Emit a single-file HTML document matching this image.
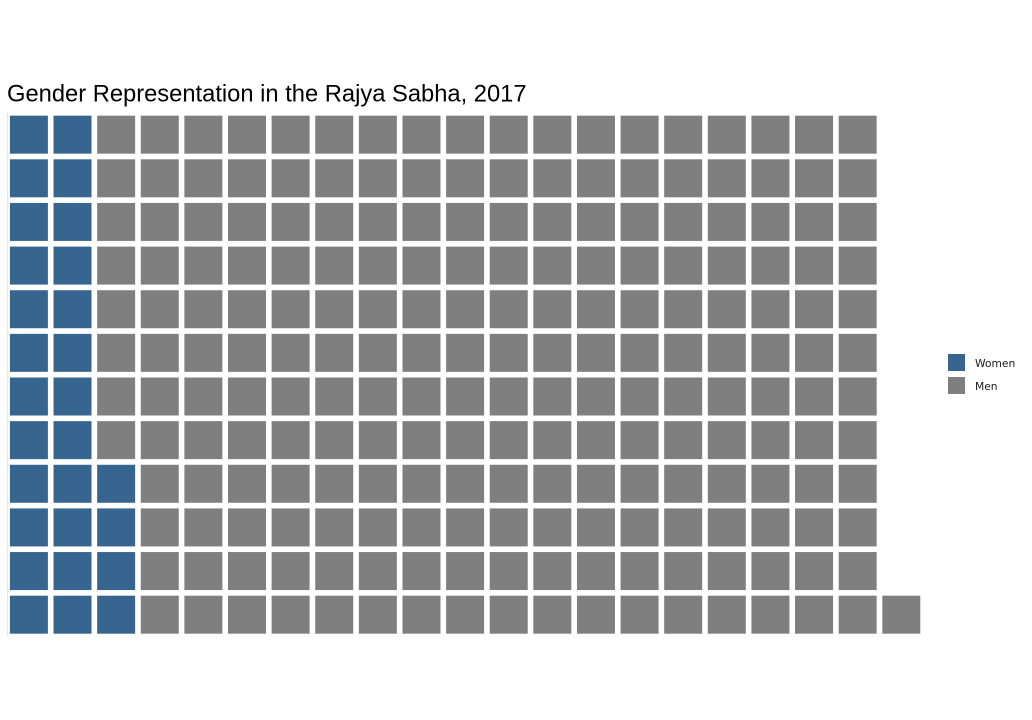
<!DOCTYPE html>
<html>
<head>
<meta charset="utf-8">
<title>Gender Representation in the Rajya Sabha, 2017</title>
<style>
html,body{margin:0;padding:0;background:#fff;}
body{width:1032px;height:720px;overflow:hidden;}
svg{display:block;}
</style>
</head>
<body>
<svg id="chart" width="1032" height="720" viewBox="0 0 1032 720" xmlns="http://www.w3.org/2000/svg">
  <rect width="1032" height="720" fill="#ffffff"/>
  <text x="7" y="101.6" font-family="'Liberation Sans',sans-serif" font-size="23.73" fill="#000000">Gender Representation in the Rajya Sabha, 2017</text>
  <line x1="7.6" y1="113" x2="7.6" y2="636" stroke="#dfe5ea" stroke-width="1"/>
  <g id="tiles"></g>
  <g id="legend"></g>
</svg>
<script>
const categories = ['Women', 'Men'];
const seats = [28, 213];
const seriesColors = ['#36668f', '#7f7f7f'];
const rowsPerColumn = 12;

function xScale(col) { return 9.9 + col * 43.62; }
function yScale(rowFromBottom) { return 595.7 - rowFromBottom * 43.64; }
const tileSize = 38.0;

const NS = 'http://www.w3.org/2000/svg';
const tilesGroup = document.getElementById('tiles');
let tileIndex = 0;
categories.forEach(function (cat, c) {
  for (let k = 0; k < seats[c]; k++) {
    const col = Math.floor(tileIndex / rowsPerColumn);
    const row = tileIndex % rowsPerColumn;
    const r = document.createElementNS(NS, 'rect');
    r.setAttribute('x', xScale(col));
    r.setAttribute('y', yScale(row));
    r.setAttribute('width', tileSize);
    r.setAttribute('height', tileSize);
    r.setAttribute('fill', seriesColors[c]);
    
    
    tilesGroup.appendChild(r);
    tileIndex++;
  }
});

const legendGroup = document.getElementById('legend');
categories.forEach(function (cat, c) {
  const top = 354 + c * 23;
  const key = document.createElementNS(NS, 'rect');
  key.setAttribute('x', 948);
  key.setAttribute('y', top);
  key.setAttribute('width', 17);
  key.setAttribute('height', 17);
  key.setAttribute('fill', seriesColors[c]);
  
  
  legendGroup.appendChild(key);
  const label = document.createElementNS(NS, 'text');
  label.setAttribute('x', 975);
  label.setAttribute('y', top + 13);
  label.setAttribute('font-family', "'DejaVu Sans',sans-serif");
  label.setAttribute('font-size', '10.7');
  label.setAttribute('fill', '#1a1a1a');
  
  
  label.textContent = cat;
  legendGroup.appendChild(label);
});
</script>
</body>
</html>
